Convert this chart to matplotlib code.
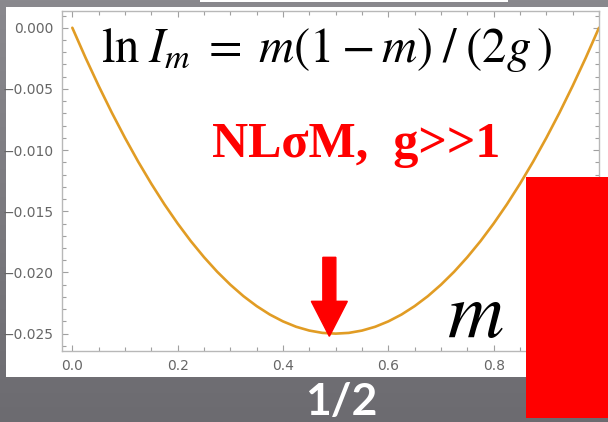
import matplotlib
matplotlib.use("Agg")
import matplotlib.pyplot as plt
import numpy as np
from matplotlib.patches import Rectangle, FancyArrow
from matplotlib.transforms import ScaledTranslation
from matplotlib.ticker import MultipleLocator

# ln I_m along m for g = 5, read at steps of 0.025
m_vals = [0.000, 0.025, 0.050, 0.075, 0.100, 0.125, 0.150, 0.175, 0.200,
          0.225, 0.250, 0.275, 0.300, 0.325, 0.350, 0.375, 0.400, 0.425,
          0.450, 0.475, 0.500, 0.525, 0.550, 0.575, 0.600, 0.625, 0.650,
          0.675, 0.700, 0.725, 0.750, 0.775, 0.800, 0.825, 0.850, 0.875,
          0.900, 0.925, 0.950, 0.975, 1.000]
ln_i = [0.0, -0.00244, -0.00475, -0.00694, -0.00900, -0.01094, -0.01275,
        -0.01444, -0.01600, -0.01744, -0.01875, -0.01994, -0.02100,
        -0.02194, -0.02275, -0.02344, -0.02400, -0.02444, -0.02475,
        -0.02494, -0.02500, -0.02494, -0.02475, -0.02444, -0.02400,
        -0.02344, -0.02275, -0.02194, -0.02100, -0.01994, -0.01875,
        -0.01744, -0.01600, -0.01444, -0.01275, -0.01094, -0.00900,
        -0.00694, -0.00475, -0.00244, 0.0]

x_ticks = [0.0, 0.2, 0.4, 0.6, 0.8]
y_ticks = [0.000, -0.005, -0.010, -0.015, -0.020, -0.025]
arrow_m = 0.488

W, H = 608, 422
fig = plt.figure(figsize=(W / 100, H / 100), dpi=100)

# slide background: grey, a little lighter towards the top
bg = fig.add_axes([0, 0, 1, 1], zorder=-10)
grad = np.linspace(0, 1, 256).reshape(-1, 1)
top = np.array([0x8a, 0x89, 0x8e]) / 255
bot = np.array([0x6c, 0x6b, 0x70]) / 255
img = top[None, None, :] * (1 - grad[..., None]) + bot[None, None, :] * grad[..., None]
bg.imshow(img, aspect="auto", extent=[0, 1, 0, 1])
bg.set_axis_off()

# white panel behind the plot and the thin strip at the top
fig.patches.append(Rectangle((6 / W, 1 - 377 / H), 602 / W, 370 / H,
                             transform=fig.transFigure, facecolor="white",
                             edgecolor="none", zorder=-5))
fig.patches.append(Rectangle((200 / W, 1 - 2 / H), 308 / W, 2 / H,
                             transform=fig.transFigure, facecolor="white",
                             edgecolor="none", zorder=-5))

ax = fig.add_axes([62 / W, 1 - 351 / H, 537 / W, 340 / H])
ax.patch.set_alpha(0)
ax.plot(m_vals, ln_i, color="#E19C24", lw=1.9, solid_capstyle="round",
        solid_joinstyle="round")

ax.set_xlim(-0.0196, 1.0)
ax.set_ylim(-0.02642, 0.00137)
ax.set_xticks(x_ticks)
ax.set_xticklabels([f"{v:.1f}" for v in x_ticks])
ax.set_yticks(y_ticks)
ax.set_yticklabels([f"{v:.3f}".replace("-", "\u2212") for v in y_ticks])
ax.xaxis.set_minor_locator(MultipleLocator(0.05))
ax.yaxis.set_minor_locator(MultipleLocator(0.001))
for s in ax.spines.values():
    s.set_color("#b8b8b8")
    s.set_linewidth(1.0)
ax.tick_params(which="both", direction="in", top=True, right=True,
               color="#a0a0a0", width=0.8, labelcolor="#666666",
               labelsize=10, pad=6)
ax.tick_params(which="major", length=4.5)
ax.tick_params(which="minor", length=2.8)

# arrow pointing at the minimum
tip = ScaledTranslation(arrow_m, -0.02522, ax.transData)
ax.add_patch(FancyArrow(0, 0.79, 0, -0.79, width=0.13, head_width=0.36,
                        head_length=0.35, length_includes_head=True,
                        color="red", transform=fig.dpi_scale_trans + tip,
                        clip_on=False, zorder=5))

plt.rcParams["mathtext.fontset"] = "stix"
fig.text(101 / W, 1 - 62 / H,
         r"$\mathrm{ln}\;I_m\;=\;m(1-m)\;/\;(2g\,)$",
         fontsize=35, color="black", va="baseline", ha="left")
fig.text(212 / W, 1 - 157 / H, "NLσM,  g>>1", family="Liberation Serif",
         fontweight="bold", fontsize=36, color="red", va="baseline", ha="left")
fig.text(447 / W, 1 - 337 / H, r"$m$", fontsize=56, color="black",
         va="baseline", ha="left")

# red block on the right and the label under the axis
fig.patches.append(Rectangle((526 / W, 1 - 418 / H), 82 / W, 241 / H,
                             transform=fig.transFigure, facecolor="#ff0000",
                             edgecolor="none", zorder=10))
fig.text(305 / W, 1 - 415 / H, "1/2", family="Lato", fontweight="bold",
         fontsize=32, color="white", va="baseline", ha="left")

fig.savefig("out.png", dpi=100)
